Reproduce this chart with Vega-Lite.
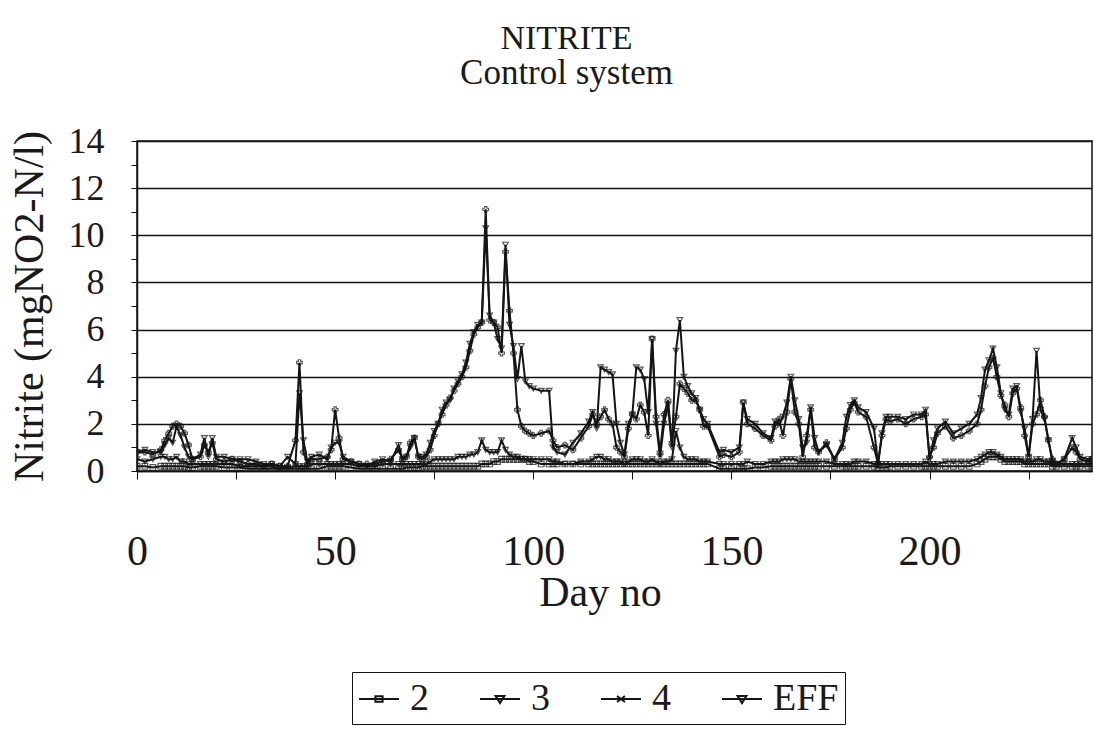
{
"$schema": "https://vega.github.io/schema/vega-lite/v6.json",
"width": 955,
"height": 330,
"autosize": "none",
"padding": {"left": 137, "top": 141, "right": 2, "bottom": 265},
"background": "white",
"config": {
  "font": "Liberation Serif",
  "view": {"stroke": "#111", "strokeWidth": 1.5},
  "axis": {"labelFont": "Liberation Serif", "titleFont": "Liberation Serif", "labelColor": "#1a1a1a", "titleColor": "#1a1a1a", "titleFontWeight": "normal", "domainColor": "#111", "tickColor": "#111"}
},
"title": {
  "text": "NITRITE",
  "subtitle": "Control system",
  "anchor": "middle",
  "dx": -48,
  "offset": 32,
  "font": "Liberation Serif",
  "fontSize": 34,
  "fontWeight": "normal",
  "color": "#1a1a1a",
  "subtitleFont": "Liberation Serif",
  "subtitleFontSize": 35,
  "subtitleColor": "#1a1a1a",
  "subtitlePadding": 0
},
"data": {"values": [
{"d":0,"2":0.2,"3":0.5,"4":0.8,"EFF":0.8},
{"d":2,"2":0.2,"3":0.4,"4":0.8,"EFF":0.9},
{"d":4,"2":0.15,"3":0.5,"4":0.7,"EFF":0.8},
{"d":6,"2":0.2,"3":0.6,"4":0.9,"EFF":0.8},
{"d":7,"2":0.2,"3":0.6,"4":1.3,"EFF":1.1},
{"d":8,"2":0.2,"3":0.5,"4":1.6,"EFF":1.4},
{"d":9,"2":0.2,"3":0.5,"4":1.9,"EFF":1.2},
{"d":10,"2":0.2,"3":0.6,"4":2.0,"EFF":1.9},
{"d":11,"2":0.2,"3":0.4,"4":1.9,"EFF":1.5},
{"d":12,"2":0.2,"3":0.4,"4":1.6,"EFF":1.0},
{"d":13,"2":0.15,"3":0.3,"4":1.1,"EFF":0.6},
{"d":14,"2":0.15,"3":0.3,"4":0.5,"EFF":0.5},
{"d":16,"2":0.2,"3":0.3,"4":0.6,"EFF":0.7},
{"d":17,"2":0.2,"3":0.3,"4":1.1,"EFF":1.4},
{"d":18,"2":0.2,"3":0.3,"4":0.8,"EFF":0.6},
{"d":19,"2":0.2,"3":0.3,"4":1.2,"EFF":1.4},
{"d":20,"2":0.2,"3":0.3,"4":0.5,"EFF":0.6},
{"d":22,"2":0.15,"3":0.3,"4":0.4,"EFF":0.6},
{"d":24,"2":0.15,"3":0.3,"4":0.5,"EFF":0.5},
{"d":26,"2":0.15,"3":0.2,"4":0.4,"EFF":0.5},
{"d":28,"2":0.1,"3":0.2,"4":0.3,"EFF":0.5},
{"d":30,"2":0.1,"3":0.2,"4":0.3,"EFF":0.4},
{"d":32,"2":0.1,"3":0.2,"4":0.2,"EFF":0.3},
{"d":34,"2":0.1,"3":0.2,"4":0.3,"EFF":0.3},
{"d":36,"2":0.1,"3":0.1,"4":0.2,"EFF":0.2},
{"d":38,"2":0.1,"3":0.15,"4":0.2,"EFF":0.6},
{"d":40,"2":0.1,"3":0.2,"4":1.3,"EFF":0.3},
{"d":41,"2":0.1,"3":0.2,"4":4.6,"EFF":3.3},
{"d":42,"2":0.1,"3":0.2,"4":0.8,"EFF":1.3},
{"d":43,"2":0.1,"3":0.2,"4":0.3,"EFF":0.4},
{"d":44,"2":0.1,"3":0.3,"4":0.5,"EFF":0.6},
{"d":46,"2":0.1,"3":0.3,"4":0.5,"EFF":0.7},
{"d":48,"2":0.2,"3":0.3,"4":0.6,"EFF":0.5},
{"d":49,"2":0.2,"3":0.3,"4":0.9,"EFF":1.0},
{"d":50,"2":0.2,"3":0.3,"4":2.6,"EFF":1.2},
{"d":51,"2":0.2,"3":0.3,"4":1.4,"EFF":1.2},
{"d":52,"2":0.2,"3":0.3,"4":0.5,"EFF":0.6},
{"d":54,"2":0.15,"3":0.3,"4":0.4,"EFF":0.4},
{"d":56,"2":0.1,"3":0.2,"4":0.3,"EFF":0.3},
{"d":58,"2":0.1,"3":0.2,"4":0.3,"EFF":0.2},
{"d":60,"2":0.1,"3":0.2,"4":0.3,"EFF":0.4},
{"d":62,"2":0.1,"3":0.3,"4":0.4,"EFF":0.5},
{"d":64,"2":0.1,"3":0.3,"4":0.5,"EFF":0.4},
{"d":66,"2":0.1,"3":0.3,"4":0.9,"EFF":1.1},
{"d":67,"2":0.1,"3":0.3,"4":0.5,"EFF":0.5},
{"d":68,"2":0.15,"3":0.3,"4":0.6,"EFF":0.6},
{"d":69,"2":0.15,"3":0.3,"4":1.2,"EFF":1.0},
{"d":70,"2":0.15,"3":0.3,"4":1.4,"EFF":1.4},
{"d":71,"2":0.15,"3":0.3,"4":0.6,"EFF":0.6},
{"d":72,"2":0.2,"3":0.3,"4":0.5,"EFF":0.6},
{"d":73,"2":0.2,"3":0.3,"4":0.6,"EFF":0.7},
{"d":74,"2":0.2,"3":0.4,"4":0.9,"EFF":1.2},
{"d":75,"2":0.2,"3":0.5,"4":1.5,"EFF":1.7},
{"d":76,"2":0.2,"3":0.5,"4":2.0,"EFF":2.0},
{"d":77,"2":0.2,"3":0.5,"4":2.4,"EFF":2.6},
{"d":78,"2":0.2,"3":0.5,"4":2.8,"EFF":2.9},
{"d":79,"2":0.2,"3":0.5,"4":3.1,"EFF":3.0},
{"d":80,"2":0.2,"3":0.5,"4":3.4,"EFF":3.5},
{"d":81,"2":0.2,"3":0.6,"4":3.7,"EFF":3.8},
{"d":82,"2":0.2,"3":0.6,"4":4.0,"EFF":4.1},
{"d":83,"2":0.2,"3":0.6,"4":4.4,"EFF":4.6},
{"d":84,"2":0.2,"3":0.7,"4":5.1,"EFF":5.4},
{"d":85,"2":0.2,"3":0.7,"4":5.8,"EFF":5.9},
{"d":86,"2":0.2,"3":0.8,"4":6.1,"EFF":6.2},
{"d":87,"2":0.3,"3":1.3,"4":6.3,"EFF":6.3},
{"d":88,"2":0.3,"3":0.9,"4":11.1,"EFF":10.3},
{"d":89,"2":0.3,"3":0.8,"4":6.4,"EFF":6.6},
{"d":90,"2":0.4,"3":0.8,"4":6.3,"EFF":6.3},
{"d":91,"2":0.4,"3":0.8,"4":6.1,"EFF":5.6},
{"d":92,"2":0.5,"3":1.3,"4":5.0,"EFF":5.2},
{"d":93,"2":0.5,"3":0.9,"4":9.3,"EFF":9.6},
{"d":94,"2":0.5,"3":0.7,"4":6.8,"EFF":6.2},
{"d":95,"2":0.5,"3":0.6,"4":5.0,"EFF":5.3},
{"d":96,"2":0.5,"3":0.6,"4":2.6,"EFF":3.9},
{"d":97,"2":0.5,"3":0.5,"4":1.9,"EFF":5.3},
{"d":98,"2":0.5,"3":0.5,"4":1.7,"EFF":3.8},
{"d":99,"2":0.4,"3":0.5,"4":1.6,"EFF":3.6},
{"d":100,"2":0.4,"3":0.5,"4":1.5,"EFF":3.5},
{"d":102,"2":0.3,"3":0.5,"4":1.6,"EFF":3.4},
{"d":104,"2":0.3,"3":0.5,"4":1.7,"EFF":3.4},
{"d":105,"2":0.3,"3":0.4,"4":1.3,"EFF":1.0},
{"d":106,"2":0.3,"3":0.4,"4":1.0,"EFF":0.8},
{"d":108,"2":0.3,"3":0.3,"4":1.1,"EFF":0.7},
{"d":110,"2":0.3,"3":0.3,"4":0.9,"EFF":1.2},
{"d":112,"2":0.3,"3":0.4,"4":1.4,"EFF":1.6},
{"d":114,"2":0.3,"3":0.4,"4":1.9,"EFF":2.1},
{"d":115,"2":0.3,"3":0.5,"4":2.4,"EFF":2.5},
{"d":116,"2":0.3,"3":0.6,"4":2.0,"EFF":1.8},
{"d":117,"2":0.3,"3":0.6,"4":2.3,"EFF":4.4},
{"d":118,"2":0.3,"3":0.5,"4":2.6,"EFF":4.3},
{"d":119,"2":0.3,"3":0.5,"4":2.2,"EFF":4.2},
{"d":120,"2":0.3,"3":0.4,"4":2.0,"EFF":4.1},
{"d":121,"2":0.3,"3":0.4,"4":1.0,"EFF":2.0},
{"d":122,"2":0.3,"3":0.4,"4":0.8,"EFF":1.2},
{"d":123,"2":0.3,"3":0.3,"4":0.6,"EFF":0.7},
{"d":124,"2":0.3,"3":0.4,"4":1.8,"EFF":2.0},
{"d":125,"2":0.3,"3":0.5,"4":2.4,"EFF":2.4},
{"d":126,"2":0.3,"3":0.5,"4":2.2,"EFF":4.4},
{"d":127,"2":0.3,"3":0.5,"4":2.8,"EFF":4.3},
{"d":128,"2":0.3,"3":0.4,"4":2.5,"EFF":3.9},
{"d":129,"2":0.3,"3":0.4,"4":1.5,"EFF":2.5},
{"d":130,"2":0.3,"3":0.5,"4":5.6,"EFF":5.6},
{"d":131,"2":0.3,"3":0.4,"4":2.3,"EFF":2.0},
{"d":132,"2":0.3,"3":0.3,"4":0.8,"EFF":0.6},
{"d":133,"2":0.3,"3":0.4,"4":2.4,"EFF":2.0},
{"d":134,"2":0.3,"3":0.4,"4":3.0,"EFF":2.8},
{"d":135,"2":0.3,"3":0.5,"4":1.2,"EFF":1.0},
{"d":136,"2":0.3,"3":1.7,"4":2.3,"EFF":5.1},
{"d":137,"2":0.3,"3":1.0,"4":3.7,"EFF":6.4},
{"d":138,"2":0.3,"3":0.6,"4":3.5,"EFF":4.0},
{"d":139,"2":0.3,"3":0.5,"4":3.3,"EFF":3.6},
{"d":140,"2":0.3,"3":0.5,"4":3.0,"EFF":3.3},
{"d":141,"2":0.3,"3":0.5,"4":3.0,"EFF":3.1},
{"d":142,"2":0.3,"3":0.4,"4":2.6,"EFF":2.6},
{"d":143,"2":0.3,"3":0.4,"4":1.9,"EFF":2.2},
{"d":144,"2":0.3,"3":0.4,"4":1.9,"EFF":2.0},
{"d":147,"2":0.1,"3":0.3,"4":0.6,"EFF":0.8},
{"d":148,"2":0.1,"3":0.3,"4":0.7,"EFF":0.9},
{"d":150,"2":0.1,"3":0.3,"4":0.6,"EFF":0.8},
{"d":152,"2":0.1,"3":0.3,"4":0.8,"EFF":1.0},
{"d":153,"2":0.1,"3":0.3,"4":2.9,"EFF":2.9},
{"d":154,"2":0.1,"3":0.4,"4":2.0,"EFF":2.2},
{"d":156,"2":0.15,"3":0.3,"4":1.8,"EFF":2.0},
{"d":158,"2":0.15,"3":0.3,"4":1.5,"EFF":1.6},
{"d":160,"2":0.2,"3":0.4,"4":1.3,"EFF":1.4},
{"d":161,"2":0.2,"3":0.4,"4":1.9,"EFF":2.1},
{"d":162,"2":0.2,"3":0.4,"4":2.2,"EFF":2.0},
{"d":163,"2":0.2,"3":0.5,"4":1.5,"EFF":2.3},
{"d":164,"2":0.2,"3":0.5,"4":2.5,"EFF":2.9},
{"d":165,"2":0.2,"3":0.5,"4":3.9,"EFF":4.0},
{"d":166,"2":0.2,"3":0.5,"4":2.5,"EFF":3.0},
{"d":167,"2":0.2,"3":0.4,"4":2.0,"EFF":2.2},
{"d":168,"2":0.2,"3":0.4,"4":0.6,"EFF":1.0},
{"d":169,"2":0.2,"3":0.4,"4":1.5,"EFF":1.2},
{"d":170,"2":0.2,"3":0.4,"4":2.6,"EFF":2.7},
{"d":171,"2":0.2,"3":0.4,"4":1.0,"EFF":1.4},
{"d":172,"2":0.2,"3":0.4,"4":0.8,"EFF":0.8},
{"d":174,"2":0.2,"3":0.4,"4":1.2,"EFF":1.1},
{"d":176,"2":0.2,"3":0.3,"4":0.5,"EFF":0.5},
{"d":178,"2":0.2,"3":0.3,"4":1.0,"EFF":1.2},
{"d":179,"2":0.2,"3":0.3,"4":1.8,"EFF":2.3},
{"d":180,"2":0.2,"3":0.3,"4":2.6,"EFF":2.8},
{"d":181,"2":0.2,"3":0.4,"4":2.9,"EFF":3.0},
{"d":182,"2":0.2,"3":0.4,"4":2.5,"EFF":2.7},
{"d":184,"2":0.2,"3":0.4,"4":2.3,"EFF":2.5},
{"d":186,"2":0.2,"3":0.3,"4":1.0,"EFF":1.8},
{"d":187,"2":0.15,"3":0.3,"4":0.3,"EFF":0.3},
{"d":188,"2":0.15,"3":0.3,"4":1.5,"EFF":1.6},
{"d":189,"2":0.15,"3":0.3,"4":2.2,"EFF":2.3},
{"d":190,"2":0.2,"3":0.3,"4":2.1,"EFF":2.3},
{"d":192,"2":0.2,"3":0.3,"4":2.2,"EFF":2.3},
{"d":194,"2":0.2,"3":0.3,"4":2.0,"EFF":2.2},
{"d":196,"2":0.2,"3":0.3,"4":2.2,"EFF":2.4},
{"d":198,"2":0.2,"3":0.3,"4":2.3,"EFF":2.4},
{"d":199,"2":0.2,"3":0.4,"4":2.4,"EFF":2.6},
{"d":200,"2":0.2,"3":0.3,"4":0.6,"EFF":0.5},
{"d":201,"2":0.2,"3":0.3,"4":1.0,"EFF":1.3},
{"d":202,"2":0.2,"3":0.3,"4":1.6,"EFF":1.8},
{"d":204,"2":0.2,"3":0.4,"4":1.9,"EFF":2.1},
{"d":206,"2":0.2,"3":0.4,"4":1.4,"EFF":1.6},
{"d":208,"2":0.2,"3":0.4,"4":1.5,"EFF":1.8},
{"d":210,"2":0.2,"3":0.4,"4":1.7,"EFF":2.0},
{"d":212,"2":0.3,"3":0.5,"4":2.0,"EFF":2.4},
{"d":213,"2":0.4,"3":0.6,"4":2.6,"EFF":3.1},
{"d":214,"2":0.5,"3":0.7,"4":3.6,"EFF":4.3},
{"d":215,"2":0.6,"3":0.8,"4":4.4,"EFF":4.7},
{"d":216,"2":0.6,"3":0.8,"4":4.8,"EFF":5.2},
{"d":217,"2":0.6,"3":0.7,"4":4.0,"EFF":4.4},
{"d":218,"2":0.5,"3":0.6,"4":3.2,"EFF":3.3},
{"d":219,"2":0.4,"3":0.5,"4":2.8,"EFF":2.6},
{"d":220,"2":0.4,"3":0.5,"4":2.3,"EFF":2.4},
{"d":221,"2":0.4,"3":0.5,"4":3.3,"EFF":3.5},
{"d":222,"2":0.4,"3":0.5,"4":3.5,"EFF":3.6},
{"d":223,"2":0.4,"3":0.5,"4":2.7,"EFF":2.5},
{"d":224,"2":0.3,"3":0.4,"4":1.5,"EFF":1.8},
{"d":225,"2":0.3,"3":0.4,"4":0.6,"EFF":0.6},
{"d":226,"2":0.3,"3":0.4,"4":2.0,"EFF":2.2},
{"d":227,"2":0.3,"3":0.5,"4":2.4,"EFF":5.1},
{"d":228,"2":0.3,"3":0.5,"4":3.0,"EFF":2.6},
{"d":229,"2":0.3,"3":0.4,"4":2.3,"EFF":2.2},
{"d":230,"2":0.3,"3":0.4,"4":1.3,"EFF":1.3},
{"d":231,"2":0.2,"3":0.3,"4":0.5,"EFF":0.4},
{"d":232,"2":0.2,"3":0.3,"4":0.3,"EFF":0.3},
{"d":234,"2":0.2,"3":0.3,"4":0.5,"EFF":0.5},
{"d":236,"2":0.2,"3":0.3,"4":1.0,"EFF":1.4},
{"d":237,"2":0.2,"3":0.3,"4":0.8,"EFF":1.0},
{"d":238,"2":0.2,"3":0.3,"4":0.5,"EFF":0.6},
{"d":240,"2":0.2,"3":0.3,"4":0.4,"EFF":0.5},
{"d":241,"2":0.2,"3":0.3,"4":0.5,"EFF":0.5}
]},
"transform": [{"fold": ["2", "3", "4", "EFF"], "as": ["s", "v"]}],
"encoding": {
  "x": {"field": "d", "type": "quantitative", "scale": {"domain": [0, 241], "nice": false, "zero": false},
    "axis": {"values": [0, 25, 50, 75, 100, 125, 150, 175, 200, 225], "labelExpr": "datum.value % 50 === 0 ? datum.label : ''",
      "grid": false, "tickSize": 8, "labelPadding": 52, "labelFontSize": 42, "title": "Day no", "titleFontSize": 42, "titlePadding": 0, "titleX": 463, "domainWidth": 1.5, "labelFlush": false}},
  "y": {"field": "v", "type": "quantitative", "scale": {"domain": [0, 14], "nice": false},
    "axis": {"values": [0,1,2,3,4,5,6,7,8,9,10,11,12,13,14], "labelExpr": "datum.value % 2 === 0 ? datum.label : ''",
      "grid": true, "gridColor": "#111", "gridWidth": 1.5,
      "gridOpacity": {"condition": {"test": "datum.value % 2 === 0", "value": 1}, "value": 0},
      "tickSize": 6, "labelPadding": 27, "labelFontSize": 36, "domainWidth": 1.5,
      "title": "Nitrite (mgNO2-N/l)", "titleFontSize": 42, "titleX": -108, "titleY": 165, "titleAngle": -90, "titleAlign": "center", "titleBaseline": "middle"}}
},
"layer": [
  {"mark": {"type": "line", "color": "#151515", "strokeWidth": 2, "clip": true},
   "encoding": {"detail": {"field": "s"}}},
  {"mark": {"type": "point", "color": "#151515", "size": 32, "strokeWidth": 1.2, "filled": false, "clip": true},
   "encoding": {"shape": {"field": "s", "type": "nominal", "scale": {"domain": ["2", "3", "4", "EFF"], "range": ["square", "triangle-down", "cross", "triangle-down"]}, "legend": null}}},
  {"transform": [{"filter": "datum.d == 0"}],
   "mark": {"type": "point", "opacity": 0, "filled": false, "color": "#151515"},
   "encoding": {"shape": {"field": "s", "type": "nominal",
     "scale": {"domain": ["2", "3", "4", "EFF"], "range": [
       "M-1,0H1M-0.18,-0.14H0.18V0.14H-0.18Z",
       "M-1,0H1M-0.22,-0.15H0.22L0,0.2Z",
       "M-1,0H1M-0.2,-0.15L0.2,0.15M-0.2,0.15L0.2,-0.15",
       "M-1,0H1M-0.22,-0.15H0.22L0,0.2Z"]},
     "legend": {"title": null, "orient": "none", "legendX": 215, "legendY": 531, "direction": "horizontal", "columns": 4,
       "gridAlign": "all", "columnPadding": 0, "padding": 6, "strokeColor": "#111",
       "symbolSize": 1600, "symbolStrokeColor": "#151515", "symbolFillColor": "#151515", "symbolStrokeWidth": 2, "symbolOpacity": 1,
       "labelOffset": 10, "labelFont": "Liberation Serif", "labelFontSize": 38, "labelColor": "#1a1a1a", "labelLimit": 300,
       "encode": {"symbols": {"update": {"fill": {"value": "#151515"}, "stroke": {"value": "#151515"}, "strokeWidth": {"value": 2}, "opacity": {"value": 1}, "strokeOpacity": {"value": 1}, "fillOpacity": {"value": 1}, "size": {"value": 1600}}},
                  "legend": {"update": {"strokeWidth": {"value": 2}}}}}}}}
],
"resolve": {"scale": {"shape": "independent"}}
}
